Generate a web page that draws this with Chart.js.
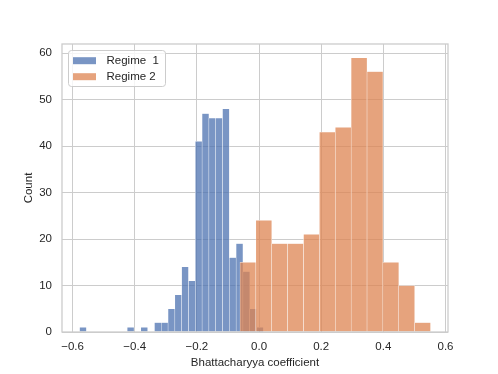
<!DOCTYPE html>
<html>
<head>
<meta charset="utf-8">
<script src="https://cdn.jsdelivr.net/npm/chart.js@4.4.1/dist/chart.umd.min.js"></script>
<style>
  html, body { margin: 0; padding: 0; background: #fff; }
</style>
</head>
<body>
<canvas id="histChart" width="498" height="374"></canvas>
<script>
// Regime 1 histogram: 27 bins starting at regime1Start
const regime1Start = -0.5774;
const regime1Width = 0.0219;
const regime1Counts = [1, 0, 0, 0, 0, 0, 0, 1, 0, 1, 0, 2, 2, 5, 8, 14, 11, 41, 47, 46, 46, 48, 16, 19, 13, 5, 1];

// Regime 2 histogram: 12 bins
const regime2Start = -0.0613;
const regime2Width = 0.0511;
const regime2Counts = [15, 24, 19, 19, 21, 43, 44, 59, 56, 15, 10, 2];

const seriesLabels = ['Regime  1', 'Regime 2'];
const xTicks = [-0.6, -0.4, -0.2, 0.0, 0.2, 0.4, 0.6];
const yTicks = [0, 10, 20, 30, 40, 50, 60];

const gridColor = '#cccccc';
const textColor = '#262626';
const blueFill = 'rgba(76, 114, 176, 0.75)';
const orangeFill = 'rgba(221, 132, 82, 0.75)';
const edgeColor = 'rgba(255, 255, 255, 0.75)';
const fontFamily = '"Liberation Sans", Arial, sans-serif';

// bin centres -> {x, y} points
function toPoints(start, width, counts) {
    return counts.map((c, i) => ({ x: start + (i + 0.5) * width, y: c }));
}

function fmtX(v) {
    const s = Math.abs(v).toFixed(1);
    return v < -1e-9 ? '\u2212' + s : s;
}

// box around the plot area + legend inside it (upper left)
const framePlugin = {
    id: 'frame',
    afterDatasetsDraw(chart) {
        const { ctx, chartArea: a } = chart;
        ctx.save();
        ctx.strokeStyle = gridColor;
        ctx.lineWidth = 1.3;
        ctx.strokeRect(a.left, a.top, a.right - a.left, a.bottom - a.top);

        // legend
        const lx = 68.5, ly = 50.5, lw = 97, lh = 36, r = 3;
        ctx.beginPath();
        ctx.roundRect(lx, ly, lw, lh, r);
        ctx.fillStyle = 'rgba(255,255,255,0.8)';
        ctx.fill();
        ctx.lineWidth = 1;
        ctx.strokeStyle = gridColor;
        ctx.stroke();

        const fills = [blueFill, orangeFill];
        ctx.font = '11.5px ' + fontFamily;
        ctx.textBaseline = 'middle';
        seriesLabels.forEach((lab, i) => {
            const cy = 60.7 + i * 16;
            ctx.fillStyle = fills[i];
            ctx.fillRect(73, cy - 3.5, 23, 7);
            ctx.fillStyle = textColor;
            ctx.fillText(lab, 106.5, cy + 0.5);
        });
        ctx.restore();
    }
};

Chart.defaults.font.family = fontFamily;
Chart.defaults.font.size = 11.5;
Chart.defaults.color = textColor;

new Chart(document.getElementById('histChart'), {
    type: 'bar',
    data: {
        datasets: [
            {
                label: seriesLabels[0],
                data: toPoints(regime1Start, regime1Width, regime1Counts),
                xAxisID: 'x',
                backgroundColor: blueFill,
                borderColor: edgeColor,
                borderWidth: 0.5,
                barPercentage: 1,
                categoryPercentage: 1,
                grouped: false,
                order: 2
            },
            {
                label: seriesLabels[1],
                data: toPoints(regime2Start, regime2Width, regime2Counts),
                xAxisID: 'x2',
                backgroundColor: orangeFill,
                borderColor: edgeColor,
                borderWidth: 0.5,
                barPercentage: 1,
                categoryPercentage: 1,
                grouped: false,
                order: 1
            }
        ]
    },
    options: {
        responsive: false,
        animation: false,
        devicePixelRatio: 1,
        layout: { padding: { left: 16, right: 50, top: 44, bottom: 0 } },
        plugins: {
            legend: { display: false },
            tooltip: { enabled: false }
        },
        scales: {
            x: {
                type: 'linear',
                position: 'bottom',
                min: -0.634,
                max: 0.608,
                offset: false,
                afterBuildTicks: axis => { axis.ticks = xTicks.map(v => ({ value: v })); },
                afterFit: axis => { axis.height = 42; },
                ticks: { callback: v => fmtX(v), padding: 8, maxRotation: 0 },
                grid: { color: gridColor, lineWidth: 1, drawTicks: false, offset: false },
                border: { display: false },
                title: { display: true, text: 'Bhattacharyya coefficient', padding: { top: 2, bottom: 4 } }
            },
            x2: {
                type: 'linear',
                position: 'bottom',
                display: false,
                min: -0.634,
                max: 0.608,
                offset: false,
                afterBuildTicks: axis => { axis.ticks = xTicks.map(v => ({ value: v })); },
                grid: { display: false, offset: false }
            },
            y: {
                min: 0,
                max: 61.95,
                afterBuildTicks: axis => { axis.ticks = yTicks.map(v => ({ value: v })); },
                afterFit: axis => { axis.width = 46; },
                ticks: { padding: 10 },
                grid: { color: gridColor, lineWidth: 1, drawTicks: false },
                border: { display: false },
                title: { display: true, text: 'Count', padding: { top: 6, bottom: 4 } }
            }
        }
    },
    plugins: [framePlugin]
});
</script>
</body>
</html>
